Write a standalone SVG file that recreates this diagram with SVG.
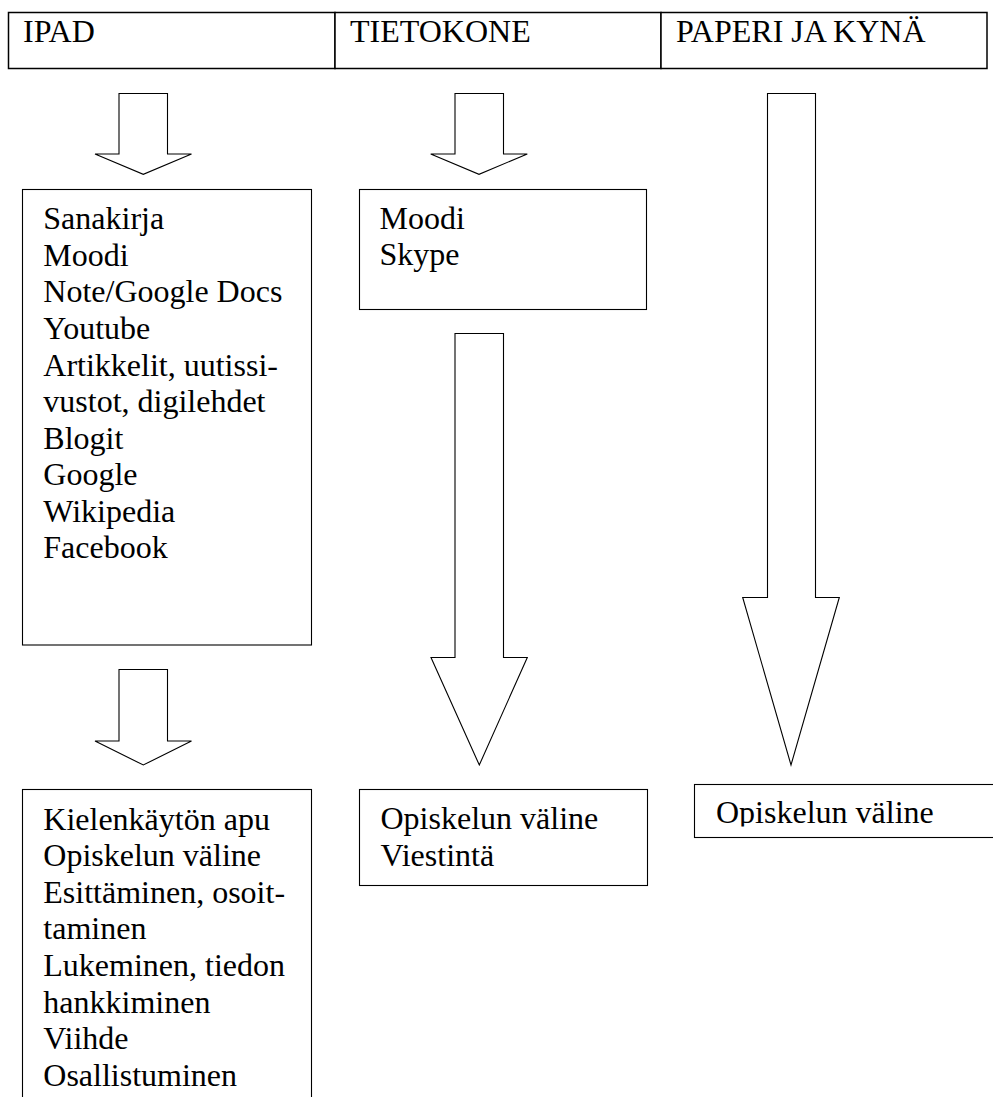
<svg xmlns="http://www.w3.org/2000/svg" width="993" height="1097" viewBox="0 0 993 1097">
<style>
  .hdr { fill: #ffffff; stroke: #000000; stroke-width: 1.5; }
  .box { fill: #ffffff; stroke: #000000; stroke-width: 1.1; }
  .arrow { fill: #ffffff; stroke: #000000; stroke-width: 1.1; stroke-linejoin: miter; }
  .t { font-family: "Liberation Serif", "Times New Roman", serif; font-size: 32px; fill: #000000; }
</style>
<defs>
  <clipPath id="clipPaperi">
    <rect x="695" y="785" width="298" height="41.5"/>
  </clipPath>
</defs>
<rect x="0" y="0" width="993" height="1097" fill="#ffffff"/>

<g id="header-ipad">
  <rect class="hdr" x="8.5" y="12.5" width="326.5" height="56"/>
  <text class="t" x="23" y="42">IPAD</text>
</g>
<g id="header-tietokone">
  <rect class="hdr" x="335" y="12.5" width="326" height="56"/>
  <text class="t" x="350" y="42">TIETOKONE</text>
</g>
<g id="header-paperi">
  <rect class="hdr" x="661" y="12.5" width="326" height="56"/>
  <text class="t" x="676" y="42">PAPERI JA KYNÄ</text>
</g>

<g id="connectors">
  <polygon class="arrow" points="119,93.5 167.5,93.5 167.5,154 191.5,154 143.3,174.3 95,154 119,154"/>
  <polygon class="arrow" points="455,93.5 503.5,93.5 503.5,154 527.3,154 479,174.3 430.7,154 455,154"/>
  <polygon class="arrow" points="767.5,93.5 815.5,93.5 815.5,597.5 839.3,597.5 791,765 742.7,597.5 767.5,597.5"/>
  <polygon class="arrow" points="455,333.5 503.5,333.5 503.5,657.5 527.3,657.5 479.3,765 431,657.5 455,657.5"/>
  <polygon class="arrow" points="119,669.5 167.5,669.5 167.5,741 191.5,741 143.3,765 95,741 119,741"/>
</g>

<g id="ipad-tools">
  <rect class="box" x="22.5" y="189.5" width="289" height="455.5"/>
  <text class="t" x="43.3" y="229.3">Sanakirja</text>
  <text class="t" x="43.3" y="265.9">Moodi</text>
  <text class="t" x="43.3" y="302.4">Note/Google Docs</text>
  <text class="t" x="43.3" y="339">Youtube</text>
  <text class="t" x="43.3" y="375.5">Artikkelit, uutissi-</text>
  <text class="t" x="43.3" y="412.1">vustot, digilehdet</text>
  <text class="t" x="43.3" y="448.6">Blogit</text>
  <text class="t" x="43.3" y="485.2">Google</text>
  <text class="t" x="43.3" y="521.7">Wikipedia</text>
  <text class="t" x="43.3" y="558.3">Facebook</text>
</g>

<g id="tietokone-tools">
  <rect class="box" x="359.5" y="189.5" width="287" height="120"/>
  <text class="t" x="379.5" y="228.8">Moodi</text>
  <text class="t" x="379.5" y="265.3">Skype</text>
</g>

<g id="ipad-uses">
  <rect class="box" x="22.5" y="789.5" width="289" height="330"/>
  <text class="t" x="43.3" y="829.5">Kielenkäytön apu</text>
  <text class="t" x="43.3" y="866.1">Opiskelun väline</text>
  <text class="t" x="43.3" y="902.7">Esittäminen, osoit-</text>
  <text class="t" x="43.3" y="939.3">taminen</text>
  <text class="t" x="43.3" y="975.9">Lukeminen, tiedon</text>
  <text class="t" x="43.3" y="1012.5">hankkiminen</text>
  <text class="t" x="43.3" y="1049.1">Viihde</text>
  <text class="t" x="43.3" y="1085.7">Osallistuminen</text>
</g>

<g id="tietokone-uses">
  <rect class="box" x="359.5" y="789.5" width="288" height="96"/>
  <text class="t" x="380.5" y="829.3">Opiskelun väline</text>
  <text class="t" x="380.5" y="866">Viestintä</text>
</g>

<g id="paperi-uses">
  <rect class="box" x="694.5" y="784.5" width="320" height="53"/>
  <text class="t" x="716" y="823.3" clip-path="url(#clipPaperi)">Opiskelun väline</text>
</g>
</svg>
